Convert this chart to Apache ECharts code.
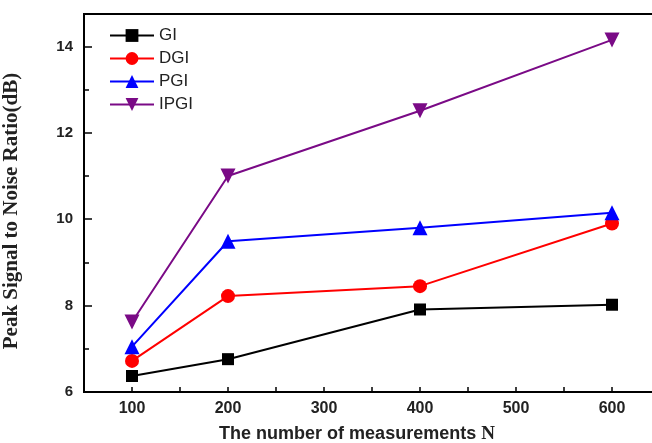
<!DOCTYPE html>
<html>
<head>
<meta charset="utf-8">
<script src="https://cdn.jsdelivr.net/npm/echarts@6/dist/echarts.min.js"></script>
<style>html,body{margin:0;padding:0;background:#fff}#c{width:652px;height:443px}</style>
</head>
<body>
<div id="c"></div>
<script>
const measurements = [100, 200, 400, 600];
const seriesNames = ['GI', 'DGI', 'PGI', 'IPGI'];
const giValues = [6.37, 6.76, 7.91, 8.02];
const dgiValues = [6.72, 8.22, 8.45, 9.90];
const pgiValues = [7.05, 9.49, 9.80, 10.15];
const ipgiValues = [7.62, 11.0, 12.51, 14.15];
const xTickLabels = [100, 200, 300, 400, 500, 600];
const yTickLabels = [6, 8, 10, 12, 14];

function pairs(vals) { return measurements.map((m, i) => [m, vals[i]]); }

const chart = echarts.init(document.getElementById('c'));
const sans = 'Liberation Sans, Arial, sans-serif';
const serif = 'Liberation Serif, Times New Roman, serif';

const yCommon = {
  type: 'value', min: 6, max: 14.75,
  splitLine: { show: false },
  axisLine: { show: true, lineStyle: { color: '#000', width: 2 } }
};

chart.setOption({
  animation: false,
  grid: { left: 84, top: 14, width: 576, bottom: 51, show: true, borderColor: '#000', borderWidth: 2,
          containLabel: false, outerBoundsMode: 'none' },
  legend: {
    orient: 'vertical', left: 109, top: 27, padding: 0,
    itemWidth: 44, itemHeight: 16, itemGap: 6,
    textStyle: { fontFamily: sans, fontSize: 17, color: '#222' },
    data: seriesNames
  },
  xAxis: {
    type: 'value', min: 50, max: 650, interval: 50,
    splitLine: { show: false },
    axisLine: { lineStyle: { color: '#000', width: 2 } },
    axisTick: { inside: true, length: 5, lineStyle: { color: '#000', width: 1.5 } },
    axisLabel: {
      margin: 9, fontFamily: sans, fontWeight: 'bold', fontSize: 16, color: '#222',
      formatter: v => xTickLabels.indexOf(v) >= 0 ? String(v) : ''
    },
    name: 'The number of measurements {n|N}',
    nameLocation: 'middle', nameGap: 33,
    nameTextStyle: {
      fontFamily: sans, fontWeight: 'bold', fontSize: 18, color: '#222',
      padding: [0, 30, 0, 0],
      rich: { n: { fontFamily: serif, fontWeight: 'bold', fontSize: 19, color: '#222' } }
    }
  },
  yAxis: [
    Object.assign({}, yCommon, {
      interval: 2,
      axisTick: { inside: true, length: 8, lineStyle: { color: '#000', width: 1.5 } },
      axisLabel: {
        margin: 11, fontFamily: sans, fontWeight: 'bold', fontSize: 15, color: '#222',
        showMaxLabel: false,
        formatter: v => yTickLabels.indexOf(v) >= 0 ? String(v) : ''
      },
      name: 'Peak Signal to Noise Ratio(dB)',
      nameLocation: 'middle', nameGap: 62, nameRotate: 90,
      nameTextStyle: { fontFamily: serif, fontWeight: 'bold', fontSize: 21, color: '#222',
                       padding: [0, 16, 0, 0] }
    }),
    Object.assign({}, yCommon, {
      interval: 1, position: 'left',
      axisTick: { inside: true, length: 5, lineStyle: { color: '#000', width: 1.5 } },
      axisLabel: { show: false }
    })
  ],
  series: [
    { name: 'GI', type: 'line', data: pairs(giValues), color: '#000000',
      symbol: 'rect', symbolSize: 12, lineStyle: { width: 2 } },
    { name: 'DGI', type: 'line', data: pairs(dgiValues), color: '#ff0000',
      symbol: 'circle', symbolSize: 14, lineStyle: { width: 2 } },
    { name: 'PGI', type: 'line', data: pairs(pgiValues), color: '#0000ff',
      symbol: 'triangle', symbolSize: 15, lineStyle: { width: 2 } },
    { name: 'IPGI', type: 'line', data: pairs(ipgiValues), color: '#7a0a86',
      symbol: 'triangle', symbolRotate: 180, symbolSize: 15, lineStyle: { width: 2 } }
  ]
});
</script>
</body>
</html>
